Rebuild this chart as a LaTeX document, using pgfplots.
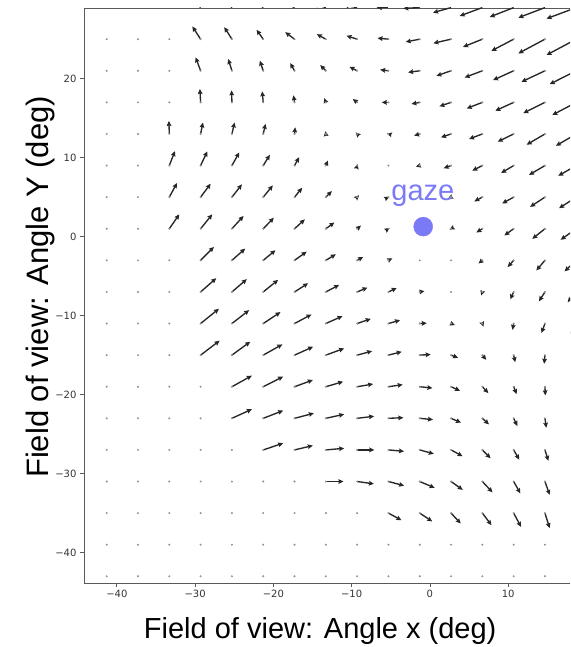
\documentclass[border=0pt]{standalone}
\usepackage{fontspec}
\setmainfont{Liberation Sans}
\newfontfamily\dejavu{DejaVu Sans}
\usepackage{pgfplots}
\usepackage{pgfplotstable}
\pgfplotsset{compat=1.18}
\usetikzlibrary{arrows.meta}
\definecolor{gazec}{RGB}{122,122,246}
\definecolor{arrowc}{RGB}{38,38,38}

% grid point (x,y) and displacement (u,v), degrees
\pgfplotstableread{
x y u v
-41.3 -43 0 0
-37.3 -43 0 0
-33.3 -43 0 0
-29.3 -43 0 0
-25.3 -43 0 0
-21.3 -43 0 0
-17.3 -43 0 0
-13.3 -43 0 0
-9.3 -43 0 0
-5.3 -43 0 0
-1.3 -43 0 0
2.7 -43 0 0
6.7 -43 0 0
10.7 -43 0 0
14.7 -43 0 0
18.7 -43 0 0
-41.3 -39 0 0
-37.3 -39 0 0
-33.3 -39 0 0
-29.3 -39 0 0
-25.3 -39 0 0
-21.3 -39 0 0
-17.3 -39 0 0
-13.3 -39 0 0
-9.3 -39 0 0
-5.3 -39 0 0
-1.3 -39 0 0
2.7 -39 0 0
6.7 -39 0 0
10.7 -39 0 0
14.7 -39 0 0
18.7 -39 0 0
-41.3 -35 0 0
-37.3 -35 0 0
-33.3 -35 0 0
-29.3 -35 0 0
-25.3 -35 0 0
-21.3 -35 0 0
-17.3 -35 0 0
-13.3 -35 0 0
-9.3 -35 0 0
-5.3 -35 1.66 -0.90
-1.3 -35 1.60 -1.06
2.7 -35 1.24 -1.32
6.7 -35 1.17 -1.53
10.7 -35 0.95 -1.75
14.7 -35 0.60 -1.91
18.7 -35 0.30 -2.00
-41.3 -31 0 0
-37.3 -31 0 0
-33.3 -31 0 0
-29.3 -31 0 0
-25.3 -31 0 0
-21.3 -31 0 0
-17.3 -31 0 0
-13.3 -31 2.25 0
-9.3 -31 2.15 -0.30
-5.3 -31 2.00 -0.53
-1.3 -31 1.90 -0.80
2.7 -31 1.50 -1.06
6.7 -31 1.30 -1.38
10.7 -31 0.85 -1.50
14.7 -31 0.60 -1.70
18.7 -31 0.30 -1.80
-41.3 -27 0 0
-37.3 -27 0 0
-33.3 -27 0 0
-29.3 -27 0 0
-25.3 -27 0 0
-21.3 -27 2.55 0.85
-17.3 -27 2.34 0.55
-13.3 -27 2.34 0.20
-9.3 -27 2.20 0
-5.3 -27 2.00 -0.18
-1.3 -27 1.80 -0.50
2.7 -27 1.47 -0.80
6.7 -27 1.05 -1.06
10.7 -27 0.72 -1.24
14.7 -27 0.43 -1.38
18.7 -27 0.15 -1.50
-41.3 -23 0 0
-37.3 -23 0 0
-33.3 -23 0 0
-29.3 -23 0 0
-25.3 -23 2.55 1.15
-21.3 -23 2.55 0.98
-17.3 -23 2.47 0.64
-13.3 -23 2.34 0.51
-9.3 -23 2.17 0.26
-5.3 -23 1.91 0.08
-1.3 -23 1.70 -0.17
2.7 -23 1.28 -0.55
6.7 -23 0.85 -0.77
10.7 -23 0.47 -0.98
14.7 -23 0.17 -1.20
18.7 -23 -0.10 -1.30
-41.3 -19 0 0
-37.3 -19 0 0
-33.3 -19 0 0
-29.3 -19 0 0
-25.3 -19 2.55 1.40
-21.3 -19 2.55 1.28
-17.3 -19 2.34 0.85
-13.3 -19 2.21 0.64
-9.3 -19 2.04 0.34
-5.3 -19 1.83 0.26
-1.3 -19 1.62 -0.17
2.7 -19 1.15 -0.51
6.7 -19 0.77 -0.81
10.7 -19 0.38 -0.94
14.7 -19 0.05 -1.10
18.7 -19 -0.20 -1.20
-41.3 -15 0 0
-37.3 -15 0 0
-33.3 -15 0 0
-29.3 -15 2.43 1.83
-25.3 -15 2.34 1.70
-21.3 -15 2.45 1.36
-17.3 -15 2.38 1.06
-13.3 -15 2.34 0.85
-9.3 -15 1.91 0.51
-5.3 -15 1.70 0.43
-1.3 -15 1.40 0.08
2.7 -15 0.90 -0.34
6.7 -15 0.50 -0.60
10.7 -15 0.20 -0.90
14.7 -15 -0.10 -1.10
18.7 -15 -0.40 -1.20
-41.3 -11 0 0
-37.3 -11 0 0
-33.3 -11 0 0
-29.3 -11 2.34 1.87
-25.3 -11 2.21 1.70
-21.3 -11 2.21 1.45
-17.3 -11 2.17 1.15
-13.3 -11 2.13 0.94
-9.3 -11 1.74 0.60
-5.3 -11 1.49 0.43
-1.3 -11 0.90 0.05
2.7 -11 0.50 -0.20
6.7 -11 0.15 -0.40
10.7 -11 -0.15 -0.80
14.7 -11 -0.45 -1.20
18.7 -11 -0.80 -1.30
-41.3 -7 0 0
-37.3 -7 0 0
-33.3 -7 0 0
-29.3 -7 2.00 1.74
-25.3 -7 1.91 1.62
-21.3 -7 1.91 1.53
-17.3 -7 1.74 1.10
-13.3 -7 1.70 0.89
-9.3 -7 1.32 0.55
-5.3 -7 1.06 0.50
-1.3 -7 0.60 0.10
2.7 -7 0 0
6.7 -7 -0.15 -0.45
10.7 -7 -0.43 -0.94
14.7 -7 -0.77 -1.19
18.7 -7 -1.10 -1.30
-41.3 -3 0 0
-37.3 -3 0 0
-33.3 -3 0 0
-29.3 -3 1.70 1.70
-25.3 -3 1.70 1.49
-21.3 -3 1.57 1.28
-17.3 -3 1.55 1.10
-13.3 -3 1.28 0.77
-9.3 -3 0.77 0.43
-5.3 -3 0.50 0.25
-1.3 -3 0 0
2.7 -3 0 0
6.7 -3 -0.50 -0.40
10.7 -3 -0.77 -0.85
14.7 -3 -1.10 -1.28
18.7 -3 -1.50 -1.40
-41.3 1 0 0
-37.3 1 0 0
-33.3 1 1.28 1.83
-29.3 1 1.49 1.83
-25.3 1 1.49 1.62
-21.3 1 1.36 1.40
-17.3 1 1.32 1.19
-13.3 1 1.10 0.80
-9.3 1 0.50 0.40
-5.3 1 0.15 0.10
-1.3 1 0 0
2.7 1 -0.20 -0.10
6.7 1 -0.77 -0.48
10.7 1 -1.19 -0.85
14.7 1 -1.62 -1.28
18.7 1 -2.00 -1.40
-41.3 5 0 0
-37.3 5 0 0
-33.3 5 0.98 1.79
-29.3 5 1.28 1.70
-25.3 5 1.28 1.62
-21.3 5 1.23 1.49
-17.3 5 0.98 1.19
-13.3 5 0.77 0.77
-9.3 5 0.25 0.25
-5.3 5 0.10 0.05
-1.3 5 0 0
2.7 5 -0.40 -0.20
6.7 5 -1.03 -0.53
10.7 5 -1.47 -0.80
14.7 5 -1.90 -1.23
18.7 5 -2.20 -1.40
-41.3 9 0 0
-37.3 9 0 0
-33.3 9 0.72 1.83
-29.3 9 0.85 1.79
-25.3 9 0.94 1.66
-21.3 9 0.85 1.36
-17.3 9 0.60 1.06
-13.3 9 0.26 0.64
-9.3 9 0.05 0.20
-5.3 9 0 0
-1.3 9 -0.50 -0.13
2.7 9 -0.94 -0.34
6.7 9 -1.28 -0.64
10.7 9 -1.60 -0.94
14.7 9 -2.04 -1.19
18.7 9 -2.30 -1.30
-41.3 13 0 0
-37.3 13 0 0
-33.3 13 -0.05 1.65
-29.3 13 0.30 1.45
-25.3 13 0.34 1.45
-21.3 13 0.30 1.28
-17.3 13 0.09 0.85
-13.3 13 -0.05 0.35
-9.3 13 -0.20 0.20
-5.3 13 -0.20 0.05
-1.3 13 -0.72 -0.20
2.7 13 -1.28 -0.43
6.7 13 -1.70 -0.64
10.7 13 -2.04 -0.98
14.7 13 -2.34 -1.36
18.7 13 -2.60 -1.50
-41.3 17 0 0
-37.3 17 0 0
-33.3 17 0 0
-29.3 17 -0.09 1.70
-25.3 17 -0.04 1.53
-21.3 17 -0.13 1.40
-17.3 17 -0.13 0.90
-13.3 17 -0.20 0.55
-9.3 17 -0.55 0.43
-5.3 17 -0.85 0
-1.3 17 -1.06 -0.20
2.7 17 -1.49 -0.50
6.7 17 -2.00 -0.77
10.7 17 -2.34 -1.06
14.7 17 -2.77 -1.36
18.7 17 -3.06 -1.60
-41.3 21 0 0
-37.3 21 0 0
-33.3 21 0 0
-29.3 21 -0.64 1.70
-25.3 21 -0.47 1.49
-21.3 21 -0.43 1.28
-17.3 21 -0.55 0.98
-13.3 21 -0.72 0.72
-9.3 21 -0.98 0.51
-5.3 21 -1.06 0.13
-1.3 21 -1.49 -0.20
2.7 21 -1.87 -0.64
6.7 21 -2.26 -0.85
10.7 21 -2.64 -1.19
14.7 21 -3.00 -1.40
18.7 21 -3.40 -1.70
-41.3 25 0 0
-37.3 25 0 0
-33.3 25 0 0
-29.3 25 -1.06 1.62
-25.3 25 -0.98 1.53
-21.3 25 -0.85 1.19
-17.3 25 -1.19 0.89
-13.3 25 -1.15 0.64
-9.3 25 -1.36 0.43
-5.3 25 -1.40 0.13
-1.3 25 -1.79 -0.34
2.7 25 -2.26 -0.51
6.7 25 -2.47 -0.98
10.7 25 -2.85 -1.49
14.7 25 -3.40 -1.80
18.7 25 -3.80 -2.00
-41.3 29 0 0
-37.3 29 0 0
-33.3 29 0 0
-29.3 29 -1.30 1.50
-25.3 29 -1.20 1.40
-21.3 29 -1.30 1.10
-17.3 29 -1.50 0.80
-13.3 29 -1.60 0.50
-9.3 29 -1.70 0.30
-5.3 29 -1.50 0
-1.3 29 -2.10 -0.10
2.7 29 -2.30 -0.64
6.7 29 -2.90 -1.06
10.7 29 -3.06 -1.19
14.7 29 -3.40 -1.28
18.7 29 -3.80 -1.40
}\field

\begin{document}
\begin{tikzpicture}
\path[use as bounding box] (-84pt,-64pt) rectangle (486pt,583pt);
\begin{axis}[
  at={(0,0)}, anchor=south west,
  scale only axis, width=486pt, height=575pt,
  xmin=-44.2, xmax=17.9, ymin=-43.85, ymax=28.95,
  axis x line=box, axis y line=left,
  axis line style={-, black!65, line width=0.9pt},
  xtick={-40,-30,-20,-10,0,10},
  xticklabels={−40,−30,−20,−10,0,10},
  ytick={-40,-30,-20,-10,0,10,20},
  yticklabels={−40,−30,−20,−10,0,10,20},
  xtick pos=left, ytick pos=left,
  tick align=outside, major tick length=4pt,
  tick style={black!65, line width=0.8pt},
  tick label style={font=\dejavu\fontsize{10}{12}\selectfont, text=black!80},
  xlabel={Field of view: Angle x (deg)},
  ylabel={Field of view: Angle Y (deg)},
  xlabel style={font=\fontsize{29}{34}\selectfont, at={(axis description cs:0.486,-0.0835)}, anchor=center},
  ylabel style={font=\fontsize{31}{36}\selectfont, at={(axis description cs:-0.0905,0.515)}, anchor=center},
]
% grid points
\addplot[only marks, mark=*, mark size=0.8pt, color=black!42, mark options={draw=none}]
  table[x=x, y=y] {\field};
% vectors
\addplot[arrowc, line width=1.35pt, -{Stealth[length=5pt, width=4.6pt, inset=0.6pt]},
  quiver={u=\thisrow{u}, v=\thisrow{v}},
  restrict expr to domain={\thisrow{u}*\thisrow{u}+\thisrow{v}*\thisrow{v}}{0.001:1000}]
  table[x=x, y=y] {\field};
% gaze point
\addplot[only marks, mark=*, mark size=9.5pt, color=gazec, mark options={draw=none}]
  coordinates {(-0.86,1.27)};
\node[text=gazec, anchor=base, font=\fontsize{29}{34}\selectfont] at (axis cs:-0.9,4.56) {gaze};
\end{axis}
\end{tikzpicture}
\end{document}
